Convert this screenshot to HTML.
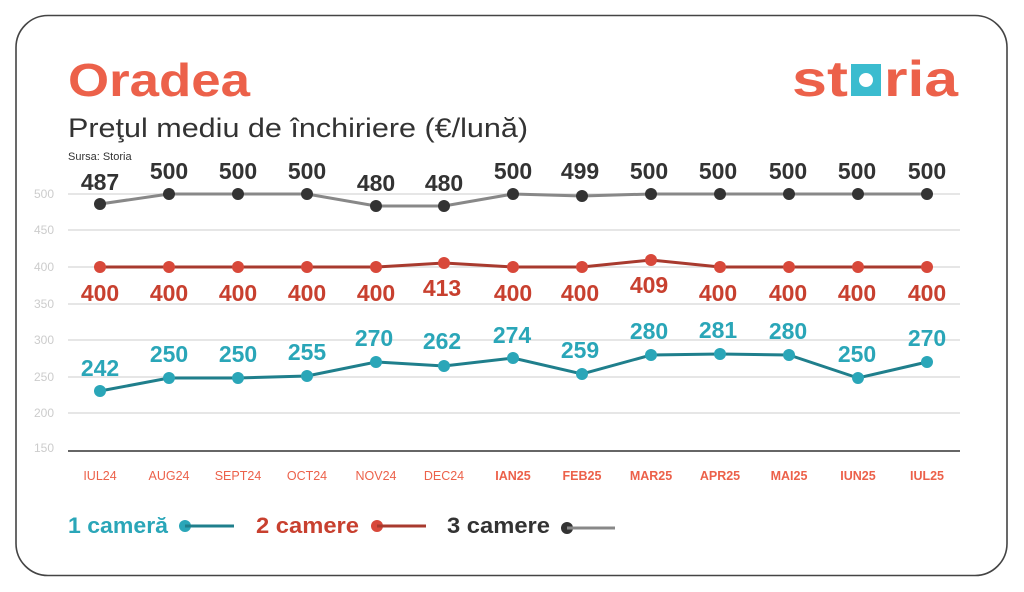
<!DOCTYPE html>
<html><head><meta charset="utf-8"><style>
html,body{margin:0;padding:0;background:#fff;width:1024px;height:592px;overflow:hidden}
svg{display:block}
text{font-family:"Liberation Sans",sans-serif}
</style></head><body>
<svg width="1024" height="592" viewBox="0 0 1024 592">
<rect x="16" y="15.5" width="991" height="560" rx="32" fill="#fff" stroke="#444" stroke-width="1.6"/>
<text x="68" y="96" font-size="46" font-weight="bold" fill="#ec614a" textLength="182" lengthAdjust="spacingAndGlyphs">Oradea</text>
<text x="68" y="137" font-size="27" fill="#333" textLength="460" lengthAdjust="spacingAndGlyphs">Preţul mediu de închiriere (€/lună)</text>
<text x="68" y="160" font-size="11" fill="#333">Sursa: Storia</text>
<!-- logo -->
<g font-size="50" font-weight="bold" fill="#ec614a">
<text x="792" y="96" textLength="56" lengthAdjust="spacingAndGlyphs">st</text>
<rect x="851" y="64" width="30" height="32" fill="#3bbccf"/>
<circle cx="866" cy="80" r="7" fill="#fff"/>
<text x="884" y="96" textLength="74" lengthAdjust="spacingAndGlyphs">ria</text>
</g>
<!-- grid -->
<g stroke="#dddddd" stroke-width="1.5">
<line x1="68" x2="960" y1="194" y2="194"/>
<line x1="68" x2="960" y1="230" y2="230"/>
<line x1="68" x2="960" y1="267" y2="267"/>
<line x1="68" x2="960" y1="304" y2="304"/>
<line x1="68" x2="960" y1="340" y2="340"/>
<line x1="68" x2="960" y1="377" y2="377"/>
<line x1="68" x2="960" y1="413" y2="413"/>
</g>
<line x1="68" x2="960" y1="451" y2="451" stroke="#333" stroke-width="1.5"/>
<g font-size="12" fill="#ccc">
<text x="34" y="198">500</text><text x="34" y="234">450</text><text x="34" y="271">400</text>
<text x="34" y="308">350</text><text x="34" y="344">300</text><text x="34" y="381">250</text>
<text x="34" y="417">200</text><text x="34" y="452">150</text>
</g>
<!-- x labels -->
<g font-size="12.5" fill="#ec614a" text-anchor="middle">
<text x="100" y="480">IUL24</text><text x="169" y="480">AUG24</text><text x="238" y="480">SEPT24</text>
<text x="307" y="480">OCT24</text><text x="376" y="480">NOV24</text><text x="444" y="480">DEC24</text>
<g font-weight="bold">
<text x="513" y="480">IAN25</text><text x="582" y="480">FEB25</text><text x="651" y="480">MAR25</text>
<text x="720" y="480">APR25</text><text x="789" y="480">MAI25</text><text x="858" y="480">IUN25</text>
<text x="927" y="480">IUL25</text></g>
</g>
<!-- 3 camere -->
<polyline fill="none" stroke="#888" stroke-width="3" points="100,204 169,194 238,194 307,194 376,206 444,206 513,194 582,196 651,194 720,194 789,194 858,194 927,194"/>
<g fill="#333">
<circle cx="100" cy="204" r="6"/><circle cx="169" cy="194" r="6"/><circle cx="238" cy="194" r="6"/><circle cx="307" cy="194" r="6"/><circle cx="376" cy="206" r="6"/><circle cx="444" cy="206" r="6"/><circle cx="513" cy="194" r="6"/><circle cx="582" cy="196" r="6"/><circle cx="651" cy="194" r="6"/><circle cx="720" cy="194" r="6"/><circle cx="789" cy="194" r="6"/><circle cx="858" cy="194" r="6"/><circle cx="927" cy="194" r="6"/>
</g>
<g font-size="23" font-weight="bold" fill="#333" text-anchor="middle">
<text x="100" y="190">487</text><text x="169" y="179">500</text><text x="238" y="179">500</text><text x="307" y="179">500</text><text x="376" y="191">480</text><text x="444" y="191">480</text><text x="513" y="179">500</text><text x="580" y="179">499</text><text x="649" y="179">500</text><text x="718" y="179">500</text><text x="788" y="179">500</text><text x="857" y="179">500</text><text x="927" y="179">500</text>
</g>
<!-- 2 camere -->
<polyline fill="none" stroke="#a83a2e" stroke-width="3" points="100,267 169,267 238,267 307,267 376,267 444,263 513,267 582,267 651,260 720,267 789,267 858,267 927,267"/>
<g fill="#d8483a">
<circle cx="100" cy="267" r="6"/><circle cx="169" cy="267" r="6"/><circle cx="238" cy="267" r="6"/><circle cx="307" cy="267" r="6"/><circle cx="376" cy="267" r="6"/><circle cx="444" cy="263" r="6"/><circle cx="513" cy="267" r="6"/><circle cx="582" cy="267" r="6"/><circle cx="651" cy="260" r="6"/><circle cx="720" cy="267" r="6"/><circle cx="789" cy="267" r="6"/><circle cx="858" cy="267" r="6"/><circle cx="927" cy="267" r="6"/>
</g>
<g font-size="23" font-weight="bold" fill="#c8402f" text-anchor="middle">
<text x="100" y="301">400</text><text x="169" y="301">400</text><text x="238" y="301">400</text><text x="307" y="301">400</text><text x="376" y="301">400</text><text x="442" y="296">413</text><text x="513" y="301">400</text><text x="580" y="301">400</text><text x="649" y="293">409</text><text x="718" y="301">400</text><text x="788" y="301">400</text><text x="857" y="301">400</text><text x="927" y="301">400</text>
</g>
<!-- 1 camera -->
<polyline fill="none" stroke="#1f7f8c" stroke-width="3" points="100,391 169,378 238,378 307,376 376,362 444,366 513,358 582,374 651,355 720,354 789,355 858,378 927,362"/>
<g fill="#2aa6b8">
<circle cx="100" cy="391" r="6"/><circle cx="169" cy="378" r="6"/><circle cx="238" cy="378" r="6"/><circle cx="307" cy="376" r="6"/><circle cx="376" cy="362" r="6"/><circle cx="444" cy="366" r="6"/><circle cx="513" cy="358" r="6"/><circle cx="582" cy="374" r="6"/><circle cx="651" cy="355" r="6"/><circle cx="720" cy="354" r="6"/><circle cx="789" cy="355" r="6"/><circle cx="858" cy="378" r="6"/><circle cx="927" cy="362" r="6"/>
</g>
<g font-size="23" font-weight="bold" fill="#2aa6b8" text-anchor="middle">
<text x="100" y="376">242</text><text x="169" y="362">250</text><text x="238" y="362">250</text><text x="307" y="360">255</text><text x="374" y="346">270</text><text x="442" y="349">262</text><text x="512" y="343">274</text><text x="580" y="358">259</text><text x="649" y="339">280</text><text x="718" y="338">281</text><text x="788" y="339">280</text><text x="857" y="362">250</text><text x="927" y="346">270</text>
</g>
<!-- legend -->
<g font-size="22" font-weight="bold">
<text x="68" y="533" fill="#2aa6b8" textLength="100" lengthAdjust="spacingAndGlyphs">1 cameră</text>
<circle cx="185" cy="526" r="6" fill="#2aa6b8"/><line x1="185" x2="234" y1="526" y2="526" stroke="#1f7f8c" stroke-width="3"/>
<text x="256" y="533" fill="#c8402f" textLength="103" lengthAdjust="spacingAndGlyphs">2 camere</text>
<circle cx="377" cy="526" r="6" fill="#d8483a"/><line x1="377" x2="426" y1="526" y2="526" stroke="#a83a2e" stroke-width="3"/>
<text x="447" y="533" fill="#333" textLength="103" lengthAdjust="spacingAndGlyphs">3 camere</text>
<circle cx="567" cy="528" r="6" fill="#333"/><line x1="567" x2="615" y1="528" y2="528" stroke="#888" stroke-width="3"/>
</g>
</svg>
</body></html>
